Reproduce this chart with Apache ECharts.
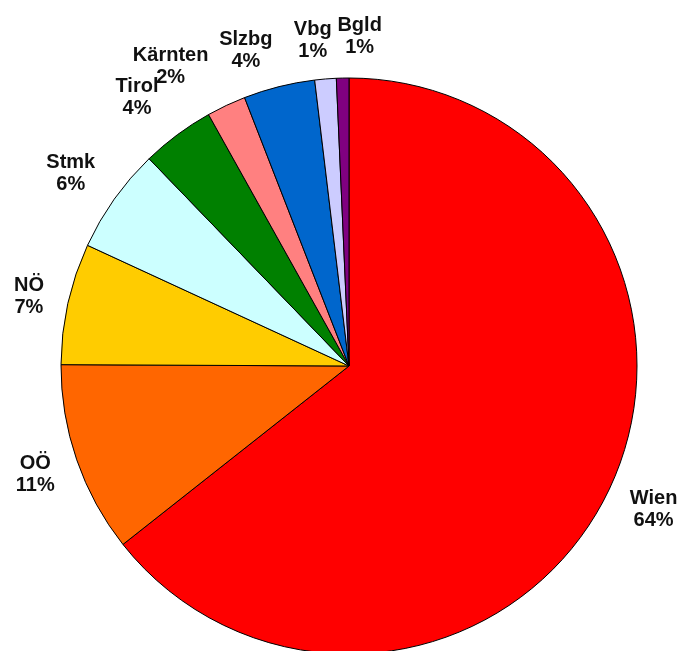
<!DOCTYPE html>
<html>
<head>
<meta charset="utf-8">
<script src="https://cdn.jsdelivr.net/npm/echarts@6/dist/echarts.min.js"></script>
<style>html,body{margin:0;padding:0;background:#fff;}#c{width:683px;height:651px;}</style>
</head>
<body>
<div id="c"></div>
<script>
const categories = ['Wien', 'OÖ', 'NÖ', 'Stmk', 'Tirol', 'Kärnten', 'Slzbg', 'Vbg', 'Bgld'];
const values = [64.3, 10.7, 6.8, 5.9, 4.1, 2.2, 4.0, 1.2, 0.7];
const colors = ['#FF0000', '#FF6600', '#FFCC00', '#CCFFFF', '#008000', '#FF8080', '#0066CC', '#CCCCFF', '#800080'];

// small nudges of the outside labels (mimicking the original's label placement)
const labelNudge = [[4, -2], [2, 0], [6, 3], [-6, 1], [-13, 0], [-36, 3], [-22, 8], [-9, 7], [18, 4]];

const chart = echarts.init(document.getElementById('c'));
chart.setOption({
  animation: false,
  series: [{
    type: 'pie',
    center: [349, 366],
    radius: 288,
    startAngle: 90,
    clockwise: true,
    avoidLabelOverlap: false,
    data: categories.map((n, i) => ({ name: n, value: values[i], itemStyle: { color: colors[i] } })),
    itemStyle: { borderColor: '#000', borderWidth: 1 },
    label: {
      position: 'outside',
      formatter: p => p.name + '\n' + Math.round(p.percent) + '%',
      fontFamily: 'Liberation Sans, Arial, sans-serif',
      fontWeight: 'bold',
      fontSize: 20,
      lineHeight: 22,
      color: '#111',
      distanceToLabelLine: 0
    },
    labelLine: { show: false, length: 46, length2: 0 },
    labelLayout: function (p) {
      const n = labelNudge[p.dataIndex];
      return { align: 'center', verticalAlign: 'middle', dx: n[0], dy: n[1] };
    },
    emphasis: { disabled: true }
  }]
});
</script>
</body>
</html>
